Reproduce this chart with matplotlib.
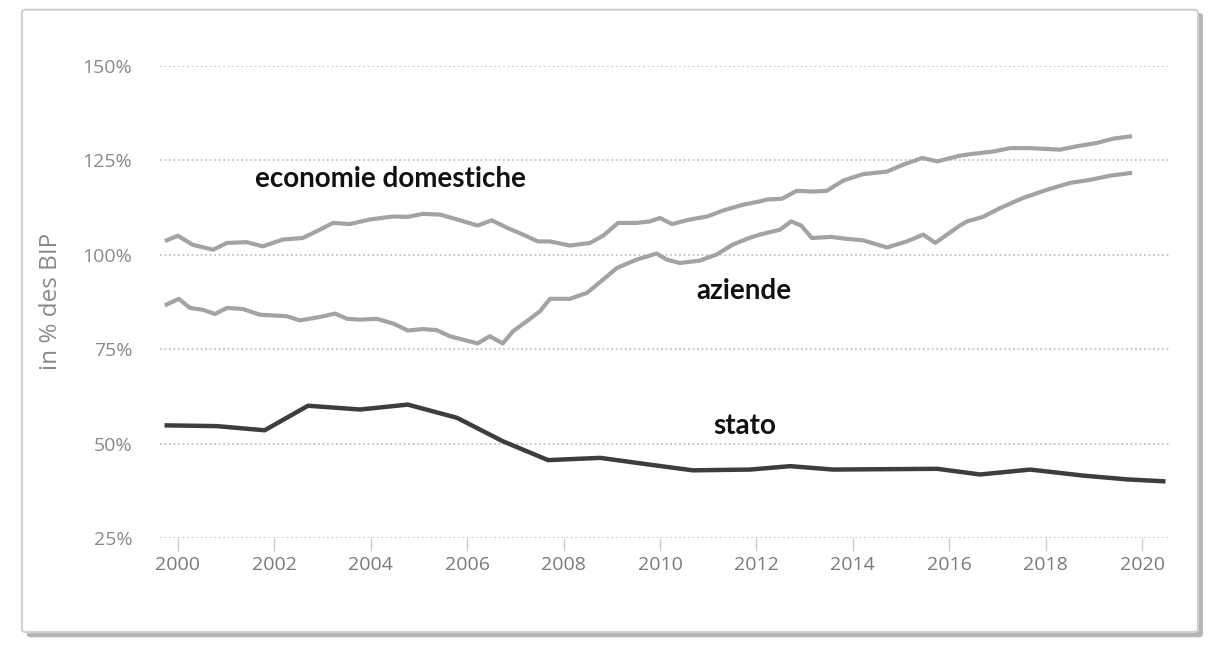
import matplotlib.pyplot as plt
from matplotlib.patches import FancyBboxPatch
import numpy as np

# Dati (anno, % del PIL)
econ_anni = [1999.77, 2000.0, 2000.31, 2000.73, 2001.02, 2001.43, 2001.76, 2002.18, 2002.59,
             2002.88, 2003.22, 2003.57, 2003.98, 2004.46, 2004.77, 2005.08, 2005.44, 2005.85,
             2006.22, 2006.51, 2006.83, 2007.16, 2007.47, 2007.72, 2008.13, 2008.55, 2008.82,
             2009.13, 2009.52, 2009.79, 2010.0, 2010.25, 2010.62, 2010.98, 2011.31, 2011.72,
             2012.07, 2012.22, 2012.53, 2012.84, 2013.17, 2013.46, 2013.80, 2014.21, 2014.71,
             2015.04, 2015.44, 2015.75, 2016.22, 2016.43, 2016.91, 2017.26, 2017.68, 2018.30,
             2018.65, 2019.07, 2019.40, 2019.75]
econ_val = [103.8, 105.0, 102.6, 101.3, 103.1, 103.3, 102.2, 104.0, 104.4,
            106.2, 108.4, 108.1, 109.3, 110.1, 110.0, 110.8, 110.6, 109.1,
            107.7, 109.1, 107.1, 105.3, 103.5, 103.5, 102.4, 103.1, 105.0,
            108.4, 108.4, 108.8, 109.7, 108.1, 109.3, 110.1, 111.7, 113.2,
            114.1, 114.6, 114.8, 116.9, 116.7, 116.9, 119.6, 121.3, 122.0,
            123.8, 125.6, 124.7, 126.2, 126.6, 127.3, 128.2, 128.2, 127.8,
            128.7, 129.6, 130.7, 131.3]

az_anni = [1999.77, 2000.02, 2000.25, 2000.52, 2000.77, 2001.02, 2001.35, 2001.70, 2002.26,
           2002.53, 2002.95, 2003.26, 2003.51, 2003.78, 2004.13, 2004.48, 2004.77, 2005.08,
           2005.37, 2005.64, 2005.91, 2006.22, 2006.47, 2006.74, 2006.95, 2007.24, 2007.51,
           2007.72, 2008.13, 2008.49, 2008.82, 2009.11, 2009.52, 2009.93, 2010.14, 2010.41,
           2010.82, 2011.17, 2011.50, 2011.85, 2012.07, 2012.49, 2012.72, 2012.93, 2013.15,
           2013.55, 2013.86, 2014.21, 2014.71, 2015.12, 2015.46, 2015.71, 2016.22, 2016.37,
           2016.70, 2017.05, 2017.53, 2018.03, 2018.51, 2018.92, 2019.34, 2019.75]
az_val = [86.8, 88.3, 85.9, 85.4, 84.3, 85.9, 85.6, 84.1, 83.7,
          82.6, 83.5, 84.4, 83.0, 82.8, 83.0, 81.7, 79.9, 80.3,
          80.0, 78.4, 77.5, 76.5, 78.4, 76.5, 79.7, 82.4, 85.0,
          88.3, 88.3, 89.9, 93.4, 96.5, 98.7, 100.3, 98.7, 97.8,
          98.4, 100.0, 102.6, 104.4, 105.3, 106.6, 108.8, 107.7, 104.4,
          104.7, 104.2, 103.8, 101.9, 103.5, 105.3, 103.1, 107.7, 108.8,
          110.0, 112.3, 115.0, 117.2, 119.0, 119.8, 120.9, 121.6]

stato_anni = [1999.77, 2000.81, 2001.80, 2002.70, 2003.78, 2004.77, 2005.79, 2006.74, 2007.68,
              2008.76, 2009.79, 2010.68, 2011.87, 2012.70, 2013.59, 2015.75, 2016.64, 2017.68,
              2018.78, 2019.69, 2020.44]
stato_val = [54.8, 54.6, 53.5, 60.0, 59.0, 60.3, 56.8, 50.6, 45.6,
             46.2, 44.4, 42.9, 43.1, 44.0, 43.1, 43.3, 41.8, 43.1,
             41.5, 40.5, 40.0]

anni_tick = list(range(2000, 2021, 2))
y_tick = [25, 50, 75, 100, 125, 150]

fig = plt.figure(figsize=(12.15, 6.45), dpi=100)

# cornice con ombra
ombra = FancyBboxPatch((0.022, 0.012), 0.968, 0.968, boxstyle="round,pad=0,rounding_size=0.004",
                       transform=fig.transFigure, facecolor="#b5b5b5", edgecolor="none", zorder=-2)
cornice = FancyBboxPatch((0.018, 0.02), 0.968, 0.965, boxstyle="round,pad=0,rounding_size=0.004",
                         transform=fig.transFigure, facecolor="white", edgecolor="#d0d0d0",
                         linewidth=1.5, zorder=-1)
fig.patches.extend([ombra, cornice])

ax = fig.add_axes([0.1317, 0.166, 0.8313, 0.732])
ax.patch.set_alpha(0)

for v in y_tick:
    ax.axhline(v, color="#c4c4c4", linestyle=(0, (1, 1.5)), linewidth=1.3, zorder=0)

ax.plot(econ_anni, econ_val, color="#a3a3a3", linewidth=3)
ax.plot(az_anni, az_val, color="#a3a3a3", linewidth=3)
ax.plot(stato_anni, stato_val, color="#3d3d3d", linewidth=3.2)

ax.set_xlim(1999.63, 2020.58)
ax.set_ylim(25, 150)
ax.set_xticks(anni_tick)
ax.set_xticklabels([str(a) for a in anni_tick], family="Open Sans")
ax.set_yticks(y_tick)
ax.set_yticklabels([f"{v}%" for v in y_tick], family="Open Sans")
ax.tick_params(axis="x", colors="#cccccc", length=9, width=1, labelcolor="#7a7a7a",
               labelsize=14, pad=4)
ax.tick_params(axis="y", length=0, labelcolor="#8a8a8a", labelsize=14, pad=20)
for s in ax.spines.values():
    s.set_visible(False)

ax.set_ylabel("in % des BIP", color="#8a8a8a", fontsize=17.5, labelpad=14, family="Open Sans")

font_lab = dict(fontsize=20, fontweight="bold", color="#111111", family="Lato")
ax.text(2004.4, 120.0, "economie domestiche", ha="center", va="center", **font_lab)
ax.text(2011.75, 90.5, "aziende", ha="center", va="center", **font_lab)
ax.text(2011.75, 54.6, "stato", ha="center", va="center", **font_lab)

plt.savefig("out.png", dpi=100)
